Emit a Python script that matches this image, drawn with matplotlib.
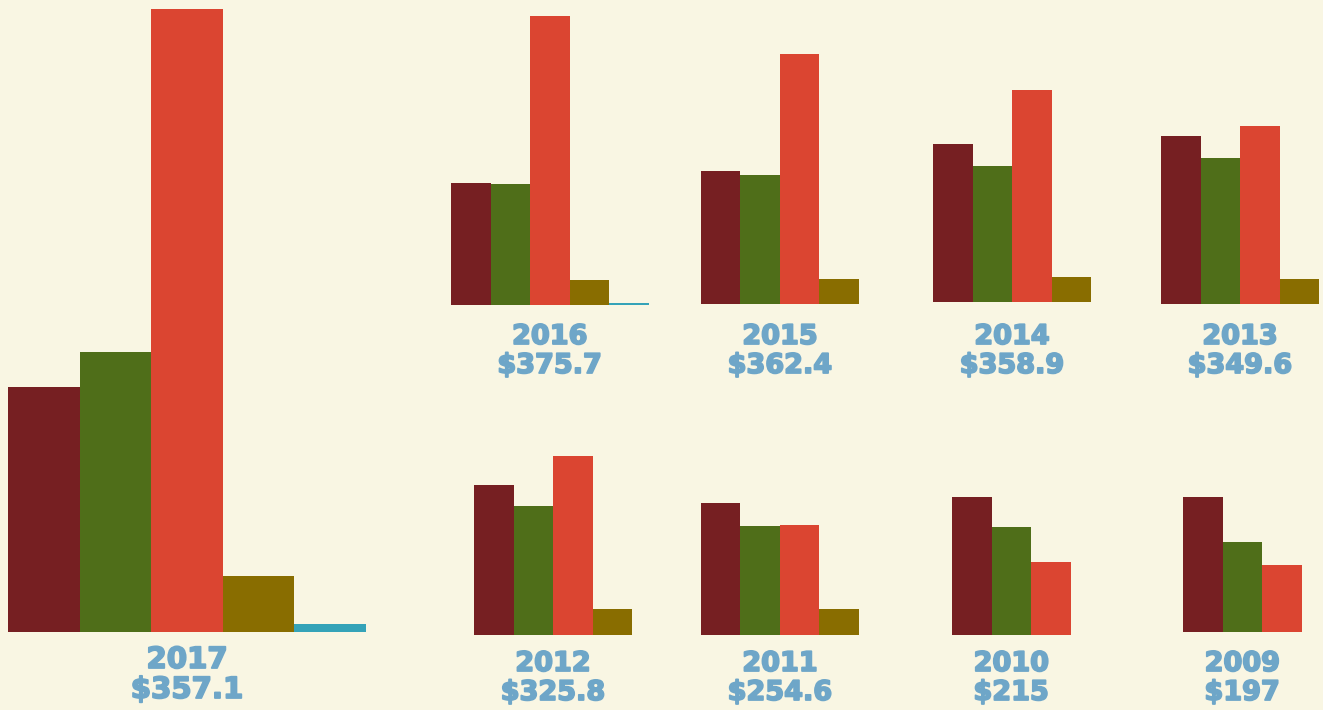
import matplotlib
matplotlib.use("Agg")
import matplotlib.pyplot as plt
import matplotlib.patheffects as pe

# bar heights (same units within each row of panels)
years = ["2017", "2016", "2015", "2014", "2013", "2012", "2011", "2010", "2009"]
totals = ["$357.1", "$375.7", "$362.4", "$358.9", "$349.6",
          "$325.8", "$254.6", "$215", "$197"]

series_a = [245, 122, 133, 158, 168, 150, 132, 138, 135]   # dark red
series_b = [280, 121, 129, 136, 146, 129, 109, 108, 90]    # green
series_c = [623, 289, 250, 212, 178, 179, 110, 73, 67]     # red
series_d = [56, 25, 25, 25, 25, 26, 26, 0, 0]              # olive
series_e = [8, 2, 0, 0, 0, 0, 0, 0, 0]                     # teal

colors = ["#761f22", "#4f6e19", "#db4531", "#896d00", "#35a3b8"]
bg = "#f9f6e3"
label_color = "#6ea6c8"

W, H = 1323, 710

# panel layout in pixels: left edge, baseline y (from top), bar width, axes height,
# year label y, total label y
layout = [
    (8, 632, 71.6, 630, 660, 690),
    (451, 304.5, 39.5, 300, 337, 366),
    (701, 303.7, 39.5, 300, 337, 366),
    (933, 301.7, 39.5, 300, 337, 366),
    (1161, 303.7, 39.5, 300, 337, 366),
    (474, 635, 39.5, 300, 664, 693),
    (701, 635, 39.5, 300, 664, 693),
    (952, 635, 39.5, 300, 664, 693),
    (1183, 632, 39.5, 300, 664, 693),
]

fig = plt.figure(figsize=(W / 100, H / 100), dpi=100)
fig.patch.set_facecolor(bg)

thick = [pe.withStroke(linewidth=1.3, foreground=label_color)]

for i, (left, base, bw, ah, y_year, y_total) in enumerate(layout):
    vals = [series_a[i], series_b[i], series_c[i], series_d[i], series_e[i]]
    ax = fig.add_axes([left / W, (H - base) / H, 5 * bw / W, ah / H])
    ax.set_xlim(-0.5, 4.5)
    ax.set_ylim(0, ah)
    ax.axis("off")
    for j, v in enumerate(vals):
        if v > 0:
            ax.bar(j, v, width=1.0, color=colors[j], linewidth=0)

    n = sum(1 for v in vals if v > 0)
    cx = (n - 1) / 2
    fs = 21 if i == 0 else 19.5
    for txt, y in [(years[i], y_year), (totals[i], y_total)]:
        ax.annotate(txt, xy=(cx, H - y), xycoords=("data", "figure pixels"),
                    ha="center", va="center", fontsize=fs, fontweight="bold",
                    color=label_color, path_effects=thick,
                    annotation_clip=False)

fig.savefig("out.png", dpi=100, facecolor=bg)
